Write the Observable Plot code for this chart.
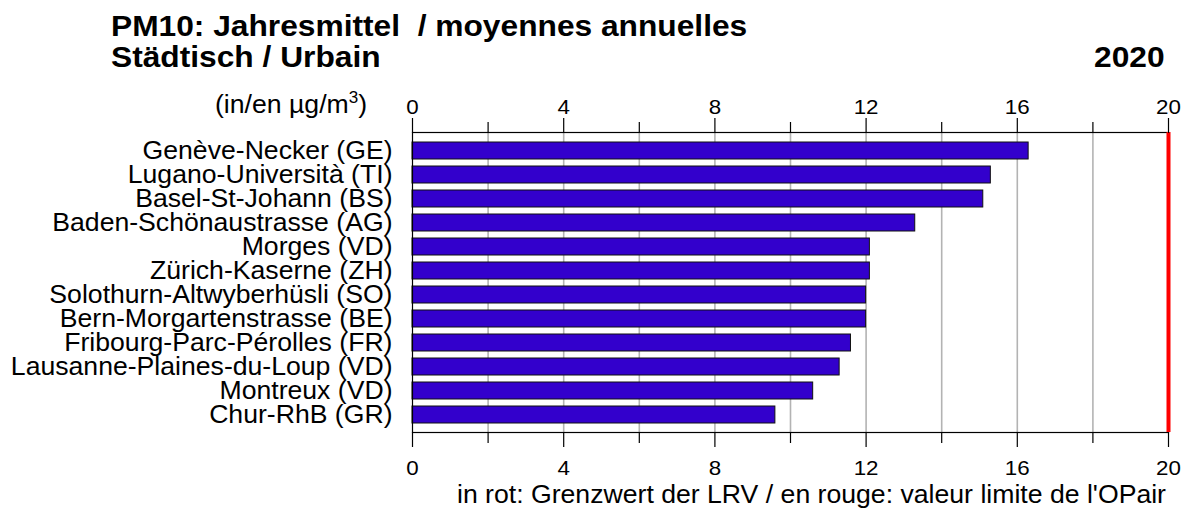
<!DOCTYPE html>
<html>
<head>
<meta charset="utf-8">
<script src="https://cdn.jsdelivr.net/npm/d3@7"></script>
<script src="https://cdn.jsdelivr.net/npm/@observablehq/plot@0.6"></script>
<style>
  html, body { margin: 0; padding: 0; background: #fff; }
  #wrap { position: relative; width: 1192px; height: 510px; overflow: hidden; font-family: "Liberation Sans", Arial, sans-serif; color: #000; }
  .t { position: absolute; white-space: nowrap; line-height: 1; }
  .title { font-weight: bold; font-size: 29.5px; transform: scaleX(1.075); transform-origin: left center; left: 111px; }
  .year { font-weight: bold; font-size: 29.5px; transform: scaleX(1.075); transform-origin: right center; right: 27px; }
  .unit { font-size: 25px; transform: scaleX(1.065); transform-origin: left center; left: 215px; top: 92px; }
  .unit sup { font-size: 16px; vertical-align: 10px; line-height: 0; }
  .foot { font-size: 25px; transform: scaleX(1.065); transform-origin: left center; left: 457px; top: 482px; }
  #chart { position: absolute; left: 0; top: 80px; }
</style>
</head>
<body>
<div id="wrap">
  <div class="t title" style="top:11px">PM10: Jahresmittel&nbsp; / moyennes annuelles</div>
  <div class="t title" style="top:42px">Städtisch / Urbain</div>
  <div class="t year" style="top:42px">2020</div>
  <div class="t unit">(in/en µg/m<sup>3</sup>)</div>
  <div id="chart"></div>
  <div class="t foot">in rot: Grenzwert der LRV / en rouge: valeur limite de l'OPair</div>
</div>
<script>
const stations = [
  "Genève-Necker (GE)",
  "Lugano-Università (TI)",
  "Basel-St-Johann (BS)",
  "Baden-Schönaustrasse (AG)",
  "Morges (VD)",
  "Zürich-Kaserne (ZH)",
  "Solothurn-Altwyberhüsli (SO)",
  "Bern-Morgartenstrasse (BE)",
  "Fribourg-Parc-Pérolles (FR)",
  "Lausanne-Plaines-du-Loup (VD)",
  "Montreux (VD)",
  "Chur-RhB (GR)"
];
const values = [16.3, 15.3, 15.1, 13.3, 12.1, 12.1, 12.0, 12.0, 11.6, 11.3, 10.6, 9.6];
const limitValue = [20];
const majorTicks = [0, 4, 8, 12, 16, 20];
const minorTicks = [2, 6, 10, 14, 18];
const gridValues = [2, 4, 6, 8, 10, 12, 14, 16, 18];

const data = stations.map((s, i) => ({station: s, value: values[i]}));
const font = "Liberation Sans, Arial, sans-serif";

const plot = Plot.plot({
  width: 1192,
  height: 400,
  marginLeft: 412,
  marginRight: 24,
  marginTop: 52,
  marginBottom: 48,
  style: {fontFamily: font, background: "transparent", color: "#000"},
  x: {domain: [0, 20], axis: null},
  y: {domain: stations, paddingInner: 0.3, paddingOuter: 0.355, axis: null},
  marks: [
    Plot.ruleX(gridValues, {stroke: "#b3b3b3", strokeWidth: 1.6}),
    Plot.barX(data, {y: "station", x: "value", fill: "#3300cc", stroke: "#111", strokeWidth: 1}),
    Plot.frame({stroke: "#000", strokeWidth: 1.2}),
    Plot.ruleX(limitValue, {stroke: "#ff0000", strokeWidth: 4}),
    Plot.axisX({anchor: "top", ticks: majorTicks, tickSize: 15, tickPadding: 4, fontSize: 21, tickFormat: d => String(d), stroke: "#000", strokeWidth: 1.2, label: null}),
    Plot.axisX({anchor: "top", ticks: minorTicks, tickSize: 11, tickFormat: () => "", stroke: "#000", strokeWidth: 1.2, label: null}),
    Plot.axisX({anchor: "bottom", ticks: majorTicks, tickSize: 15, tickPadding: 13, fontSize: 21, tickFormat: d => String(d), stroke: "#000", strokeWidth: 1.2, label: null}),
    Plot.axisX({anchor: "bottom", ticks: minorTicks, tickSize: 11, tickFormat: () => "", stroke: "#000", strokeWidth: 1.2, label: null}),
    Plot.axisY({anchor: "left", tickSize: 0, tickPadding: 20, fontSize: 25, label: null})
  ]
});

d3.select(plot).selectAll("text").each(function() {
  const t = this.getAttribute("transform") || "";
  this.setAttribute("transform", t + " scale(1.065,1)");
});
d3.select(plot).selectAll("text").attr("fill", "#000");
document.getElementById("chart").appendChild(plot);
</script>
</body>
</html>
